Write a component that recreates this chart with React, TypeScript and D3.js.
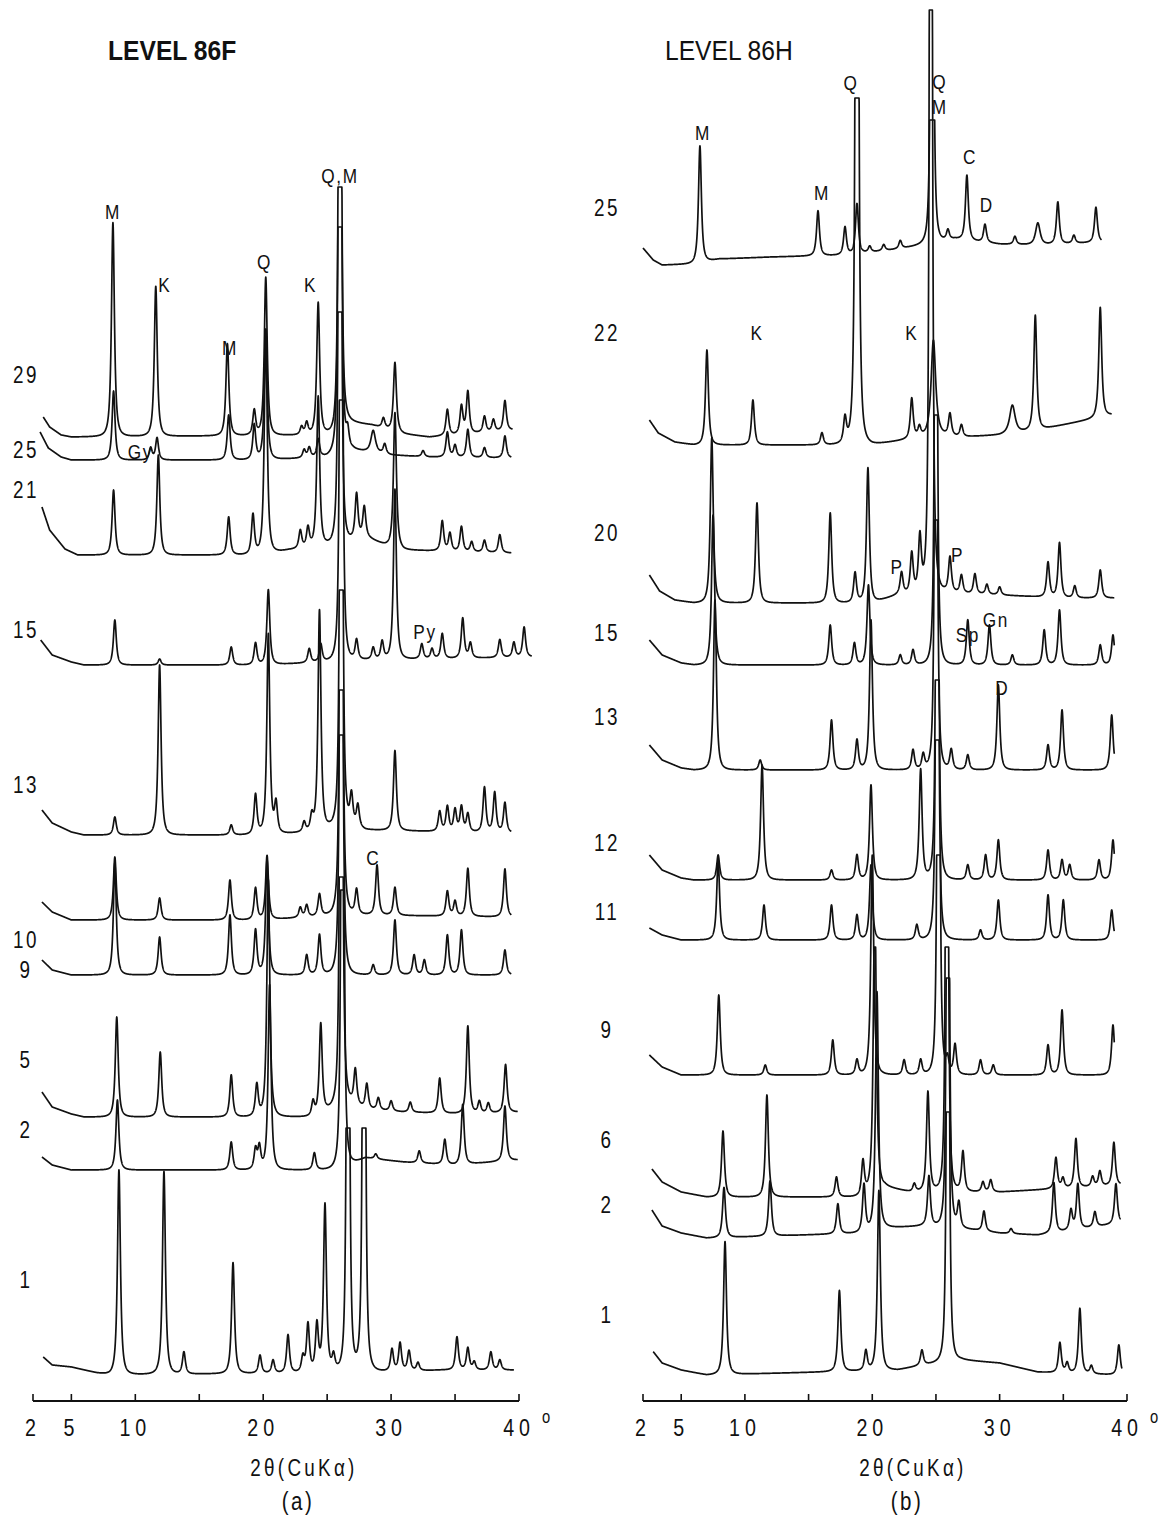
import * as d3 from "d3";

// ── Types ─────────────────────────────────────────────────────────────────────
// peak: [2θ in degrees, height in counts, width (optional)]
type Peak = [number, number, number?];
// background: [2θ, level above the trace offset]
type Bg = [number, number];

// ── Panel (a): LEVEL 86F ──────────────────────────────────────────────────────
const F_SAMPLES = ["29", "25", "21", "15", "13", "10", "9", "5", "2", "1"];
const F_OFFSETS = [963, 940, 845, 735, 565, 480, 425, 283, 230, 25];
const F_RANGES: [number, number][] = [
  [2.8, 39.5], [2.55, 39.4], [2.7, 39.4], [2.6, 41.0], [2.7, 39.4],
  [2.7, 39.4], [2.7, 39.4], [2.7, 39.9], [2.7, 39.9], [2.8, 39.6],
];
const F_CAPS = [250, 233, 243, 265, 245, 230, 240, 240, 280, 247];

const F29: Peak[] = [[8.25, 214], [11.6, 150], [17.2, 92], [19.3, 25], [20.2, 158], [23.0, 8], [23.4, 12], [24.3, 132], [26.0, 1200, 0.1], [29.4, 10], [30.3, 69], [34.4, 26], [35.5, 28], [36.0, 42], [37.3, 16], [38.0, 12], [38.9, 30]];
const F25: Peak[] = [[8.3, 69], [11.2, 12], [11.7, 22], [17.3, 45], [19.3, 35], [20.2, 130], [23.2, 8], [23.6, 10], [24.3, 18], [26.0, 1200, 0.1], [26.6, 18], [28.6, 22, 0.25], [29.5, 10], [32.5, 6], [34.4, 25], [35.0, 12], [36.0, 28], [37.3, 10], [38.9, 22]];
const F21: Peak[] = [[8.3, 65], [11.8, 100], [17.3, 38], [19.2, 40], [20.2, 225], [22.9, 18], [23.5, 20], [24.3, 150], [26.0, 1200, 0.1], [27.3, 45], [27.9, 30], [30.3, 135], [34.0, 30], [34.6, 18], [35.5, 25], [36.3, 10], [37.3, 12], [38.5, 18]];
const F15: Peak[] = [[8.4, 45], [11.9, 6], [17.5, 18], [19.4, 22], [20.4, 75], [23.6, 14], [24.5, 18], [26.1, 1200, 0.1], [27.3, 20], [28.6, 12], [29.3, 18], [30.3, 170], [32.4, 15], [33.2, 10], [34.0, 25], [35.6, 40], [36.2, 15], [38.5, 18], [39.6, 15], [40.4, 30]];
const F13: Peak[] = [[8.4, 18], [11.9, 170], [17.5, 10], [19.4, 40], [20.4, 200], [21.0, 30], [23.2, 10], [23.8, 15], [24.4, 220], [26.1, 1200, 0.1], [26.9, 30], [27.4, 22], [30.3, 80], [33.8, 20], [34.4, 25], [35.0, 22], [35.5, 25], [36.0, 18], [37.3, 45], [38.1, 40], [38.9, 30]];
const F10: Peak[] = [[8.4, 63], [11.9, 22], [17.4, 40], [19.4, 32], [20.3, 64], [22.9, 10], [23.4, 12], [24.4, 22], [26.1, 1200, 0.1], [27.3, 25], [28.9, 50], [30.3, 28], [34.4, 25], [35.0, 15], [36.0, 48], [38.9, 48]];
const F9: Peak[] = [[8.4, 112], [11.9, 38], [17.4, 60], [19.4, 45], [20.3, 115], [23.4, 20], [24.4, 40], [26.1, 1200, 0.1], [28.6, 10], [30.3, 55], [31.8, 20], [32.6, 15], [34.4, 40], [35.5, 45], [38.9, 25]];
const F5: Peak[] = [[8.55, 100], [11.95, 65], [17.5, 42], [19.5, 32], [20.4, 237], [23.9, 15], [24.5, 90], [26.1, 1200, 0.1], [27.2, 35], [28.1, 25], [29.0, 12], [30.0, 10], [31.5, 10], [33.8, 35], [36.0, 88], [36.9, 12], [37.6, 10], [38.95, 48]];
const F2: Peak[] = [[8.6, 70], [17.5, 28], [19.4, 20], [19.7, 22], [20.5, 185], [24.0, 17], [26.2, 1200, 0.1], [28.8, 5], [32.2, 12], [34.2, 25], [35.6, 60], [38.9, 55]];
const F1: Peak[] = [[8.72, 205], [12.24, 203], [13.8, 22], [17.64, 111], [19.75, 18], [20.77, 13], [21.94, 38], [23.1, 15], [23.5, 48], [24.2, 47], [24.83, 167], [25.5, 15], [26.63, 1200, 0.1], [27.88, 1200, 0.1], [30.07, 22], [30.7, 28], [31.4, 20], [32.1, 8], [35.15, 33], [36.0, 22], [36.5, 8], [37.8, 18], [38.5, 10]];

const F29_BG: Bg[] = [[2.8, 20], [3.3, 10], [4.2, 2], [5, 0], [25.5, 2], [26.5, 15], [28.5, 12], [31, 3], [33, 0], [39.5, 7]];
const F25_BG: Bg[] = [[2.55, 28], [3.2, 12], [4.2, 3], [5, 0], [20, 0], [25, 3], [27, 10], [30, 5], [33, 3], [39.4, 2]];
const F21_BG: Bg[] = [[2.7, 48], [3.3, 25], [4.5, 6], [5.5, 0], [20, 0], [22, 5], [26, 10], [28, 18], [29.5, 10], [31, 5], [39.4, 2]];
const F15_BG: Bg[] = [[2.6, 25], [3.5, 10], [5, 3], [6, 0], [20, 0], [25, 3], [28, 5], [41, 8]];
const F13_BG: Bg[] = [[2.7, 25], [3.5, 12], [5, 3], [6, 0], [20, 0], [24, 3], [26.5, 10], [28, 5], [39.4, 2]];
const F10_BG: Bg[] = [[2.7, 18], [3.5, 8], [5, 0], [20, 0], [26, 5], [28, 5], [39.4, 3]];
const F9_BG: Bg[] = [[2.7, 15], [3.5, 5], [5, 0], [39.4, 0]];
const F5_BG: Bg[] = [[2.7, 25], [3.5, 10], [5, 3], [6, 0], [24, 0], [26.5, 15], [28, 8], [31, 5], [36, 3], [39.9, 5]];
const F2_BG: Bg[] = [[2.7, 13], [3.5, 5], [5, 0], [26, 0], [28, 12], [31, 8], [35, 5], [39.9, 10]];
const F1_BG: Bg[] = [[2.8, 18], [3.5, 10], [5, 8], [7, 2], [8, 0], [29, 3], [34, 5], [39.6, 5]];

const F_PEAKS = [F29, F25, F21, F15, F13, F10, F9, F5, F2, F1];
const F_BGS = [F29_BG, F25_BG, F21_BG, F15_BG, F13_BG, F10_BG, F9_BG, F5_BG, F2_BG, F1_BG];

// mineral marks: [text, 2θ, level]
const F_MARKS: [string, number, number][] = [
  ["M", 8.25, 1188], ["K", 12.3, 1115], ["M", 17.4, 1052], ["Q", 20.1, 1138],
  ["K", 23.7, 1115], ["Q,M", 26.0, 1224], ["Gy", 10.4, 948], ["Py", 32.65, 768], ["C", 28.6, 542],
];

// ── Panel (b): LEVEL 86H ──────────────────────────────────────────────────────
const H_SAMPLES = ["25", "22", "20", "15", "13", "12", "11", "9", "6", "2", "1"];
const H_OFFSETS = [1143, 955, 797, 735, 630, 520, 460, 325, 203, 162, 25];
const H_RANGES: [number, number][] = [
  [2.0, 38.0], [2.5, 38.8], [2.5, 39.0], [2.5, 39.0], [2.5, 39.0], [2.5, 39.0],
  [2.5, 39.0], [2.5, 39.0], [2.7, 39.5], [2.7, 39.5], [2.8, 39.6],
];
const H_CAPS = [137, 347, 593, 250, 250, 200, 200, 220, 250, 260, 263];

const H25: Peak[] = [[6.47, 117], [15.74, 45], [17.86, 28], [18.8, 50], [19.8, 6], [20.9, 6], [22.2, 8], [24.7, 1000, 0.1], [25.94, 10], [27.43, 65], [28.85, 18], [31.2, 8], [33.0, 22, 0.25], [34.57, 42], [35.83, 8], [37.56, 35]];
const H22: Peak[] = [[7.02, 95], [10.63, 45], [16.05, 12], [17.86, 25], [18.8, 2000, 0.1], [23.1, 40], [23.7, 10], [24.8, 95, 0.25], [26.1, 22], [27.0, 12], [31.0, 28, 0.3], [32.8, 115], [37.9, 110]];
const H20: Peak[] = [[7.4, 165], [10.95, 100], [16.7, 90], [18.65, 30], [19.66, 135], [22.3, 22], [23.1, 40], [23.74, 55], [24.6, 2000, 0.1], [26.1, 35], [27.0, 18], [28.06, 20], [29.0, 10], [30.0, 8], [33.8, 35], [34.7, 55], [35.9, 12], [37.9, 28]];
const H15: Peak[] = [[7.5, 150], [16.7, 40], [18.6, 22], [19.7, 80], [22.2, 10], [23.2, 15], [25.0, 1000, 0.1], [27.5, 45], [29.2, 40], [31.0, 10], [33.5, 35], [34.7, 55], [37.9, 20], [38.9, 30]];
const H13: Peak[] = [[7.65, 170], [11.2, 10], [16.8, 50], [18.8, 30], [19.9, 150], [23.2, 20], [24.0, 15], [25.0, 1000, 0.1], [26.2, 20], [27.5, 15], [29.9, 85], [33.8, 25], [34.9, 60], [38.8, 55]];
const H12: Peak[] = [[7.9, 25], [11.35, 115], [16.8, 10], [18.8, 25], [19.9, 95], [23.8, 110], [25.1, 1000, 0.1], [27.5, 15], [28.9, 25], [29.9, 40], [33.8, 30], [34.9, 20], [35.5, 15], [37.8, 20], [38.9, 40]];
const H11: Peak[] = [[7.9, 80], [11.5, 35], [16.8, 35], [18.8, 25], [19.9, 75], [23.5, 15], [25.1, 1000, 0.1], [28.5, 10], [29.9, 40], [33.8, 45], [35.0, 40], [38.8, 30]];
const H9: Peak[] = [[7.95, 80], [11.6, 10], [16.9, 35], [18.8, 15], [20.0, 220], [22.5, 15], [23.8, 15], [25.2, 1000, 0.1], [25.9, 15], [26.5, 30], [28.5, 15], [29.5, 10], [33.8, 30], [34.9, 65], [38.9, 50]];
const H6: Peak[] = [[8.28, 66], [11.73, 102], [17.19, 20], [19.27, 34], [20.2, 300], [23.3, 8], [24.37, 100], [25.86, 1000, 0.1], [27.12, 40], [28.69, 10], [29.3, 12], [34.42, 31], [34.97, 10], [35.99, 49], [37.3, 10], [37.87, 15], [38.97, 43]];
const H2: Peak[] = [[8.36, 50], [11.97, 55], [17.3, 30], [19.35, 48], [20.37, 238], [24.45, 50], [25.94, 1000, 0.1], [26.8, 25], [28.77, 20], [30.9, 5], [34.26, 50], [35.6, 20], [36.14, 45], [37.48, 15], [39.13, 40]];
const H1: Peak[] = [[8.44, 133], [17.42, 81], [19.5, 20], [20.52, 180], [23.9, 15], [25.94, 1000, 0.1], [34.73, 30], [35.3, 10], [36.3, 65], [37.2, 8], [39.36, 30]];

const H25_BG: Bg[] = [[2.0, 9], [2.8, -3], [3.5, -8], [6, -7], [8, -2], [12, 0], [18, 2], [22, 8], [25, 14], [26.5, 18], [30, 13], [33, 12], [38, 15]];
const H22_BG: Bg[] = [[2.5, 25], [3.2, 12], [4.5, 3], [6, 0], [20, 0], [25, 10], [27, 8], [30, 10], [33, 15], [38.8, 30]];
const H20_BG: Bg[] = [[2.5, 28], [3.3, 12], [4.5, 3], [6, 0], [20, 0], [22, 8], [26, 10], [30, 8], [35, 5], [39, 5]];
const H15_BG: Bg[] = [[2.5, 25], [3.5, 10], [5, 2], [6, 0], [39, 0]];
const H13_BG: Bg[] = [[2.5, 25], [3.5, 10], [5, 2], [6, 0], [39, 0]];
const H12_BG: Bg[] = [[2.5, 25], [3.5, 10], [5, 2], [6, 0], [39, 0]];
const H11_BG: Bg[] = [[2.5, 12], [3.5, 5], [5, 0], [39, 0]];
const H9_BG: Bg[] = [[2.5, 20], [3.5, 8], [5, 0], [39, 0]];
const H6_BG: Bg[] = [[2.7, 28], [3.5, 15], [5, 5], [7, 0], [19, 0], [21, 10], [23, 5], [30, 5], [39.5, 12]];
const H2_BG: Bg[] = [[2.7, 28], [3.5, 12], [5, 5], [7, 0], [19.5, 5], [21, 10], [24, 12], [28, 8], [30, 5], [33, 3], [39.5, 15]];
const H1_BG: Bg[] = [[2.7, 25], [3.5, 12], [5, 5], [7, 0], [22, 5], [24, 10], [27, 15], [30, 12], [33, 3], [39.6, 0]];

const H_PEAKS = [H25, H22, H20, H15, H13, H12, H11, H9, H6, H2, H1];
const H_BGS = [H25_BG, H22_BG, H20_BG, H15_BG, H13_BG, H12_BG, H11_BG, H9_BG, H6_BG, H2_BG, H1_BG];

const H_MARKS: [string, number, number][] = [
  ["M", 6.7, 1267], ["Q", 18.33, 1317], ["Q", 25.3, 1318], ["M", 25.3, 1293],
  ["M", 16.05, 1207], ["C", 27.67, 1243], ["D", 29.0, 1195], ["K", 10.95, 1067],
  ["K", 23.1, 1067], ["P", 21.94, 833], ["P", 26.7, 845], ["Sp", 27.5, 765],
  ["Gn", 29.7, 780], ["D", 30.2, 712],
];

// ── Axis ──────────────────────────────────────────────────────────────────────
const TICKS = [2, 5, 10, 15, 20, 25, 30, 35, 40];
const TICK_LABELS = [2, 5, 10, 20, 30, 40];

// ── Helpers ───────────────────────────────────────────────────────────────────
function tracePoints(peaks: Peak[], bg: Bg[], range: [number, number], cap: number) {
  const bgScale = d3
    .scaleLinear()
    .domain(bg.map((d) => d[0]))
    .range(bg.map((d) => d[1]))
    .clamp(true);
  const ts = d3.range(range[0], range[1], 0.01).concat([range[1]]);
  return ts.map((t) => {
    let v = bgScale(t);
    for (const p of peaks) {
      const w = p[2] ?? 0.16;
      const u = (t - p[0]) / w;
      v += p[1] / Math.pow(1 + u * u, 1.3);
    }
    return [t, Math.min(v, cap)] as [number, number];
  });
}

const FONT = "'Liberation Sans', Arial, sans-serif";

// narrow lettering like the original stencil text
function Txt({ x, y, size, children, sx = 0.82, weight = 400, spacing = 0, anchor = "middle" }: any) {
  return (
    <text
      transform={`translate(${x},${y}) scale(${sx},1)`}
      fontFamily={FONT}
      fontSize={size}
      fontWeight={weight}
      letterSpacing={spacing}
      textAnchor={anchor}
      dominantBaseline="central"
      fill="#111"
    >
      {children}
    </text>
  );
}

interface PanelProps {
  x0: number;
  x1: number;
  title: string;
  titleX: number;
  titleBold: boolean;
  samples: string[];
  offsets: number[];
  ranges: [number, number][];
  caps: number[];
  peaks: Peak[][];
  bgs: Bg[][];
  marks: [string, number, number][];
  labelX: number;
  labelY: number[];
  caption: string;
}

function Panel(p: PanelProps) {
  const x = d3.scaleLinear().domain([2, 40]).range([p.x0, p.x1]);
  const y = d3.scaleLinear().domain([0, 1400]).range([1400, 0]);
  const axisY = 1401;
  const mid = (p.x0 + p.x1) / 2;

  return (
    <g>
      <Txt x={p.titleX} y={50} size={28} weight={p.titleBold ? 700 : 400} sx={0.88} anchor="start">
        {p.title}
      </Txt>

      {p.samples.map((s, i) => {
        const pts = tracePoints(p.peaks[i], p.bgs[i], p.ranges[i], p.caps[i]);
        const line = d3
          .line<[number, number]>()
          .x((d) => x(d[0]))
          .y((d) => y(p.offsets[i] + d[1]));
        return (
          <g key={s + i}>
            <path d={line(pts) ?? ""} fill="none" stroke="#111" strokeWidth={1.7} strokeLinejoin="round" />
            <Txt x={p.labelX} y={p.labelY[i]} size={23} spacing={3}>
              {s}
            </Txt>
          </g>
        );
      })}

      {p.marks.map(([t, d, lv], i) => (
        <Txt key={i} x={x(d)} y={y(lv)} size={21} spacing={2}>
          {t}
        </Txt>
      ))}

      {/* axis */}
      <line x1={x(2)} x2={x(40)} y1={axisY} y2={axisY} stroke="#111" strokeWidth={2} />
      {TICKS.map((t) => (
        <line key={t} x1={x(t)} x2={x(t)} y1={axisY} y2={axisY - 7} stroke="#111" strokeWidth={1.6} />
      ))}
      {TICK_LABELS.map((t) => (
        <Txt key={t} x={x(t)} y={1428} size={24} spacing={6}>
          {t}
        </Txt>
      ))}
      <Txt x={x(40) + 27} y={1416} size={18}>
        o
      </Txt>
      <Txt x={mid + 28} y={1468} size={23} spacing={4}>
        2θ(CuKα)
      </Txt>
      <Txt x={mid + 22} y={1501} size={25} spacing={3}>
        {p.caption}
      </Txt>
    </g>
  );
}

export default function App() {
  return (
    <svg
      width={1163}
      height={1519}
      viewBox="0 0 1163 1519"
      style={{ position: "absolute", left: 0, top: 0, background: "#fff" }}
    >
      <rect width={1163} height={1519} fill="#fff" />
      <Panel
        x0={33}
        x1={519}
        title="LEVEL 86F"
        titleX={108}
        titleBold
        samples={F_SAMPLES}
        offsets={F_OFFSETS}
        ranges={F_RANGES}
        caps={F_CAPS}
        peaks={F_PEAKS}
        bgs={F_BGS}
        marks={F_MARKS}
        labelX={26}
        labelY={[375, 450, 490, 630, 785, 940, 970, 1060, 1130, 1280]}
        caption="(a)"
      />
      <Panel
        x0={643}
        x1={1127}
        title="LEVEL 86H"
        titleX={665}
        titleBold={false}
        samples={H_SAMPLES}
        offsets={H_OFFSETS}
        ranges={H_RANGES}
        caps={H_CAPS}
        peaks={H_PEAKS}
        bgs={H_BGS}
        marks={H_MARKS}
        labelX={607}
        labelY={[208, 333, 533, 633, 717, 843, 912, 1030, 1140, 1205, 1315]}
        caption="(b)"
      />
    </svg>
  );
}
